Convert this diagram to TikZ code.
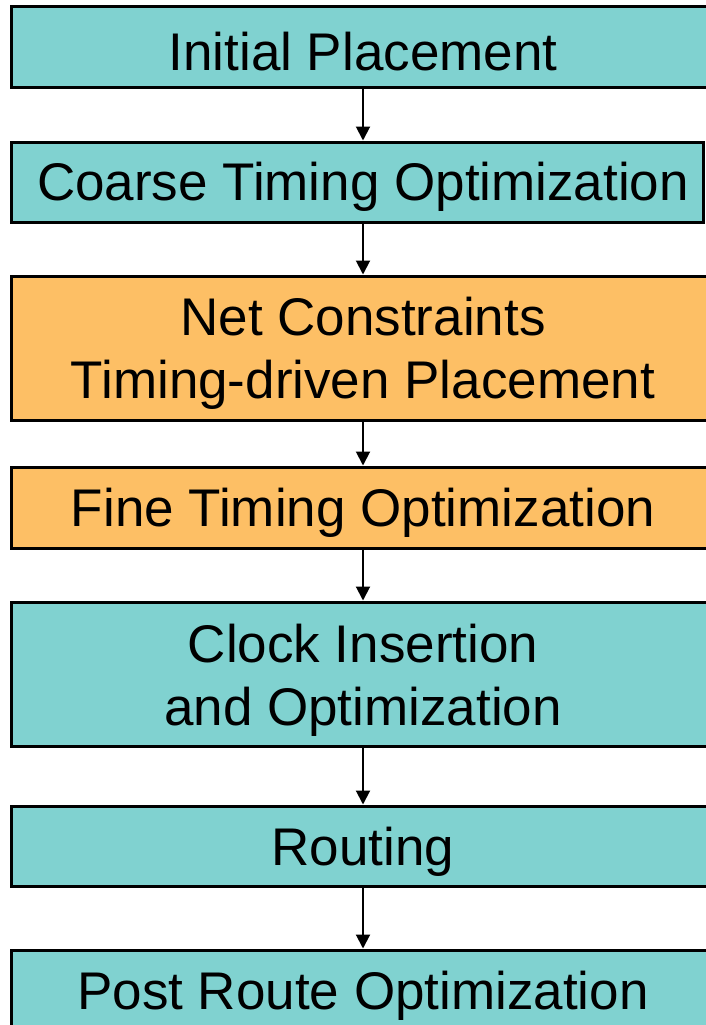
\documentclass[tikz,border=0pt]{standalone}
\usepackage{fontspec}
\setmainfont{Liberation Sans}
\usetikzlibrary{arrows.meta}
\definecolor{tealbox}{RGB}{128,210,208}
\definecolor{orangebox}{RGB}{253,191,101}
\tikzset{
  stage/.style={draw=black, line width=3pt, rectangle, inner sep=0pt,
    minimum width=714pt},
  tealstage/.style={stage, fill=tealbox},
  orangestage/.style={stage, fill=orangebox},
  caption/.style={inner sep=0pt, align=center,
    font=\fontsize{53}{63}\selectfont},
  flow/.style={line width=2pt, -{Triangle[width=14pt,length=14pt]}}
}
\begin{document}
\begin{tikzpicture}[x=1pt,y=-1pt]
\useasboundingbox (0,0) rectangle (705,1025);
\fill[white] (0,0) rectangle (705,1025);

% stage boxes (left edge at 11, running off the right side)
\node[tealstage, minimum height=80pt] (init) at (368,47) {};
\node[tealstage, minimum height=80pt, minimum width=692pt] (coarse) at (357,182) {};
\node[orangestage, minimum height=144pt] (netc) at (368,348) {};
\node[orangestage, minimum height=81pt] (fine) at (368,507.5) {};
\node[tealstage, minimum height=144pt] (clock) at (368,674) {};
\node[tealstage, minimum height=80pt] (route) at (368,846) {};
\node[tealstage, minimum height=80pt] (post) at (368,990) {};

% stage captions
\node[caption] (initT) at (363,52) {Initial Placement};
\node[caption] (coarseT) at (363,187) {Coarse Timing Optimization};
\node[caption] (netcT) at (363,353) {Net Constraints\\Timing-driven Placement};
\node[caption] (fineT) at (363,513) {Fine Timing Optimization};
\node[caption] (clockT) at (363,680) {Clock Insertion\\and Optimization};
\node[caption] (routeT) at (363,852) {Routing};
\node[caption] (postT) at (363,996) {Post Route Optimization};

% flow arrows
\draw[flow] (initT |- init.south) -- (initT |- coarse.north);
\draw[flow] (initT |- coarse.south) -- (initT |- netc.north);
\draw[flow] (initT |- netc.south) -- (initT |- fine.north);
\draw[flow] (initT |- fine.south) -- (initT |- clock.north);
\draw[flow] (initT |- clock.south) -- (initT |- route.north);
\draw[flow] (initT |- route.south) -- (initT |- post.north);
\end{tikzpicture}
\end{document}
